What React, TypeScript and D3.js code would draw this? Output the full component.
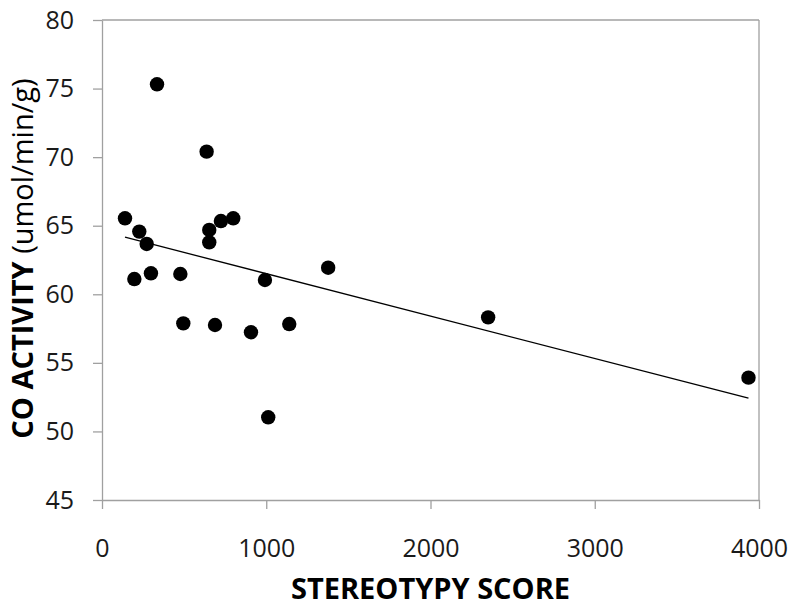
import React, { useEffect, useRef } from "react";
import * as d3 from "d3";

const stereotypyScore: number[] = [140, 227, 272, 197, 298, 477, 335, 637, 653, 653, 724, 799, 992, 1377, 495, 688, 907, 1140, 1012, 2351, 3936];
const coActivity: number[] = [65.54, 64.57, 63.67, 61.11, 61.53, 61.48, 75.31, 70.4, 64.69, 63.79, 65.34, 65.54, 61.04, 61.94, 57.88, 57.76, 57.23, 57.83, 51.03, 58.32, 53.92];
const xTicks: number[] = [0, 1000, 2000, 3000, 4000];
const yTicks: number[] = [45, 50, 55, 60, 65, 70, 75, 80];
const xTitle = "STEREOTYPY SCORE";
const yTitleBold = "CO ACTIVITY ";
const yTitleUnit = "(umol/min/g)";

const W = 800;
const H = 612;
const M = { left: 102, right: 800 - 759, top: 20, bottom: 612 - 500 };

export default function App() {
  const ref = useRef<SVGSVGElement | null>(null);

  useEffect(() => {
    document.body.style.margin = "0";
    const svg = d3.select(ref.current);
    svg.selectAll("*").remove();

    const x = d3.scaleLinear().domain([0, 4000]).range([M.left, W - M.right]);
    const y = d3.scaleLinear().domain([45, 80]).range([H - M.bottom, M.top]);
    const axisColor = "#a0a0a0";
    const font = "'Open Sans', sans-serif";

    const g = svg.append("g");
    g.append("line").attr("x1", x(0)).attr("x2", x(4000)).attr("y1", y(80)).attr("y2", y(80)).attr("stroke", axisColor).attr("stroke-width", 1.3);
    g.append("line").attr("x1", x(4000)).attr("x2", x(4000)).attr("y1", y(80)).attr("y2", y(45)).attr("stroke", axisColor).attr("stroke-width", 1.3);

    const yAxis = d3.axisLeft(y).tickValues(yTicks).tickSize(9).tickPadding(19).tickSizeOuter(0).tickFormat(d3.format("d"));
    const ya = svg.append("g").attr("transform", `translate(${x(0)},0)`).call(yAxis);
    const xAxis = d3.axisBottom(x).tickValues(xTicks).tickSize(9).tickPadding(30).tickSizeOuter(0).tickFormat(d3.format("d"));
    const xa = svg.append("g").attr("transform", `translate(0,${y(45)})`).call(xAxis);
    [ya, xa].forEach((a) => {
      a.select(".domain").attr("stroke", axisColor).attr("stroke-width", 1.3);
      a.selectAll(".tick line").attr("stroke", axisColor).attr("stroke-width", 1.3);
      a.selectAll(".tick text").attr("fill", "#1a1a1a").style("font-family", font).style("font-size", "25px");
    });

    // trendline (least squares)
    const n = stereotypyScore.length;
    const mx = d3.mean(stereotypyScore) as number;
    const my = d3.mean(coActivity) as number;
    let sxy = 0, sxx = 0;
    for (let i = 0; i < n; i++) {
      sxy += (stereotypyScore[i] - mx) * (coActivity[i] - my);
      sxx += (stereotypyScore[i] - mx) ** 2;
    }
    const slope = sxy / sxx;
    const icpt = my - slope * mx;
    const [x0, x1] = d3.extent(stereotypyScore) as [number, number];
    svg.append("line")
      .attr("x1", x(x0)).attr("y1", y(icpt + slope * x0))
      .attr("x2", x(x1)).attr("y2", y(icpt + slope * x1))
      .attr("stroke", "#000").attr("stroke-width", 1.3);

    svg.append("g").selectAll("circle").data(stereotypyScore).join("circle")
      .attr("cx", (d) => x(d))
      .attr("cy", (_d, i) => y(coActivity[i]))
      .attr("r", 7.2)
      .attr("fill", "#000");

    svg.append("text")
      .attr("x", (x(0) + x(4000)) / 2).attr("y", 599)
      .attr("text-anchor", "middle")
      .style("font-family", font).style("font-weight", "bold").style("font-size", "29px")
      .attr("fill", "#000")
      .text(xTitle);

    const yt = svg.append("text")
      .attr("transform", `translate(33,258.5) rotate(-90)`)
      .attr("text-anchor", "middle")
      .style("font-family", font).style("font-size", "29px")
      .attr("fill", "#000");
    yt.append("tspan").style("font-weight", "bold").text(yTitleBold);
    yt.append("tspan").style("font-weight", "normal").text(yTitleUnit);
  }, []);

  return <svg ref={ref} width={W} height={H} style={{ display: "block", background: "#fff" }} />;
}
